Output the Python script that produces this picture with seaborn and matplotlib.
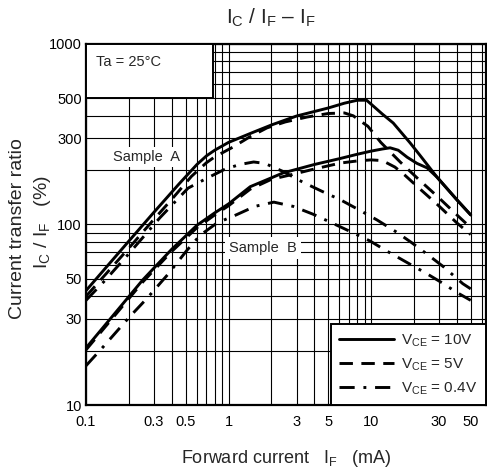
import numpy as np
import pandas as pd
import matplotlib
matplotlib.use("Agg")
import matplotlib.pyplot as plt
from matplotlib.patches import Rectangle
from matplotlib.ticker import LogLocator, FixedLocator, FixedFormatter, NullFormatter
import seaborn as sns

# ---- curve data: forward current IF (mA) vs current transfer ratio (%) ----
if_a_10v = [0.1, 0.2, 0.3, 0.45, 0.6, 0.7, 0.8, 1.0, 1.5, 2.0, 3.0, 5.0, 6.5, 8.0, 9.3, 10.3, 12, 14.3, 18.8, 22, 29, 40, 50]
ctr_a_10v = [43, 81, 117, 168, 215, 240, 258, 285, 325, 356, 399, 442, 470, 488, 488, 455, 409, 365, 283, 242, 183, 137, 113]

if_a_5v = [0.1, 0.2, 0.3, 0.4, 0.55, 0.7, 0.8, 1.07, 1.4, 1.86, 2.5, 3.56, 5.0, 6.5, 7.5, 8.4, 9.5, 11.7, 16, 21.7, 29.5, 40, 50]
ctr_a_5v = [40, 74, 107, 138, 185, 220, 237, 268, 305, 343, 370, 394, 412, 415, 400, 375, 350, 285, 222, 177, 142, 113, 96]

if_a_04v = [0.1, 0.136, 0.2, 0.33, 0.52, 0.7, 0.95, 1.2, 1.5, 1.8, 2.4, 3.3, 4.5, 6.1, 8, 11, 15, 19.4, 25, 32.5, 44, 50]
ctr_a_04v = [38, 49, 69, 109, 159, 180, 203, 215, 222, 218, 197, 172, 153, 137, 122, 106, 91, 79, 68, 58, 47, 44]

if_b_10v = [0.1, 0.25, 0.4, 0.6, 0.8, 1.0, 1.42, 2.41, 4, 6.06, 8, 10, 12, 13.6, 15.5, 17.9, 21, 24.7, 29, 40, 50]
ctr_b_10v = [20.7, 49.3, 73, 99, 116, 130, 162, 193, 215, 232, 245, 255, 262, 266, 258, 236, 218, 206, 183, 137, 113]

if_b_5v = [0.1, 0.25, 0.4, 0.6, 0.8, 1.0, 1.42, 2.0, 2.7, 4, 6.1, 8, 10, 12, 14.7, 17.2, 21.7, 29.5, 40, 50]
ctr_b_5v = [20.2, 48, 71, 96, 113, 127, 157, 178, 188, 203, 219, 225, 228, 226, 208, 188, 159, 128, 102, 88]

if_b_04v = [0.1, 0.132, 0.2, 0.268, 0.376, 0.511, 0.63, 0.83, 1.13, 1.53, 2.08, 2.84, 3.92, 5.32, 7.24, 9.84, 13, 17.6, 24, 31.5, 40, 50]
ctr_b_04v = [16.5, 21, 30.5, 39, 53, 72, 87, 102, 113, 126, 133, 126, 114, 102, 91, 81, 71, 62, 54, 47.5, 42, 38]

vce_labels = ["V$_\\mathrm{CE}$ = 10V", "V$_\\mathrm{CE}$ = 5V", "V$_\\mathrm{CE}$ = 0.4V"]

x_ticks = [0.1, 0.3, 0.5, 1, 3, 5, 10, 30, 50]
x_ticklabels = ["0.1", "0.3", "0.5", "1", "3", "5", "10", "30", "50"]
y_ticks = [10, 30, 50, 100, 300, 500, 1000]
y_ticklabels = ["10", "30", "50", "100", "300", "500", "1000"]

sns.set_theme(style="white")
plt.rcParams["font.family"] = ["Liberation Sans", "DejaVu Sans"]
plt.rcParams["mathtext.fontset"] = "custom"
plt.rcParams["mathtext.rm"] = "Liberation Sans"
plt.rcParams["mathtext.it"] = "Liberation Sans:italic"
plt.rcParams["mathtext.bf"] = "Liberation Sans:bold"

W, H = 487, 469
fig = plt.figure(figsize=(W / 100, H / 100), dpi=100)
ax = fig.add_axes([86 / W, 1 - 405 / H, 400 / W, 361 / H])

rows = []
curves = [
    ("A", 0, if_a_10v, ctr_a_10v),
    ("A", 1, if_a_5v, ctr_a_5v),
    ("A", 2, if_a_04v, ctr_a_04v),
    ("B", 0, if_b_10v, ctr_b_10v),
    ("B", 1, if_b_5v, ctr_b_5v),
    ("B", 2, if_b_04v, ctr_b_04v),
]
for sample, k, xs, ys in curves:
    for x, y in zip(xs, ys):
        rows.append({"sample": sample, "vce": vce_labels[k], "IF": x, "CTR": y})
df = pd.DataFrame(rows)

LW = 2.1
line_styles = {
    vce_labels[0]: "-",
    vce_labels[1]: (0, (4.6, 2.9)),
    vce_labels[2]: (0, (5.2, 3.0, 1.0, 3.0)),
}
handles = {}
for (sample, vce), sub in df.groupby(["sample", "vce"], sort=False):
    before = len(ax.lines)
    sns.lineplot(data=sub, x="IF", y="CTR", ax=ax, color="black", lw=LW,
                 linestyle=line_styles[vce], estimator=None, sort=False,
                 legend=False, zorder=4)
    handles.setdefault(vce, ax.lines[before])

ax.set_xscale("log")
ax.set_yscale("log")
ax.set_xlim(0.1, 64)
ax.set_ylim(10, 1000)

# full log grid
ax.xaxis.set_major_locator(FixedLocator(x_ticks))
ax.xaxis.set_major_formatter(FixedFormatter(x_ticklabels))
ax.xaxis.set_minor_locator(LogLocator(base=10, subs=np.arange(1, 10)))
ax.xaxis.set_minor_formatter(NullFormatter())
ax.yaxis.set_major_locator(FixedLocator(y_ticks))
ax.yaxis.set_major_formatter(FixedFormatter(y_ticklabels))
ax.yaxis.set_minor_locator(LogLocator(base=10, subs=np.arange(1, 10)))
ax.yaxis.set_minor_formatter(NullFormatter())
ax.grid(True, which="both", color="black", lw=0.8)
ax.set_axisbelow(True)
ax.tick_params(which="both", length=0, labelsize=10.5, colors="black")
ax.tick_params(axis="x", pad=7)
ax.tick_params(axis="y", pad=3)

for s in ax.spines.values():
    s.set_visible(True)
    s.set_color("black")
    s.set_linewidth(1.6)

# ambient-temperature box
ax.add_patch(Rectangle((0, 0.85), 0.3175, 0.15, transform=ax.transAxes,
                       facecolor="white", edgecolor="black", lw=1.4, zorder=3))
ax.text(0.024, 0.95, "Ta = 25°C", transform=ax.transAxes, fontsize=10.5,
        ha="left", va="center", zorder=5)

# sample labels
ax.text(0.265, 237, "Sample  A", fontsize=10.5, ha="center", va="center", zorder=3,
        bbox=dict(facecolor="white", edgecolor="none", pad=2))
ax.text(1.75, 74, "Sample  B", fontsize=10.5, ha="center", va="center", zorder=3,
        bbox=dict(facecolor="white", edgecolor="none", pad=3))

leg = ax.legend([handles[v] for v in vce_labels], vce_labels, loc="lower right",
                bbox_to_anchor=(1, 0), borderaxespad=0, frameon=True,
                fancybox=False, framealpha=1, edgecolor="black", fontsize=11,
                handlelength=3.6, handletextpad=0.45, labelspacing=0.5,
                borderpad=0.55)
leg.get_frame().set_linewidth(1.4)
leg.set_zorder(6)

# title and axis labels
fig.text(271 / W, 1 - 18 / H, "I$_\\mathrm{C}$ / I$_\\mathrm{F}$ – I$_\\mathrm{F}$",
         fontsize=15, ha="center", va="center")
ax.set_xlabel("Forward current   I$_\\mathrm{F}$   (mA)", fontsize=13)
ax.xaxis.set_label_coords(0.5, -0.12)
ax.set_ylabel("Current transfer ratio", fontsize=14, va="center", ha="center")
ax.yaxis.set_label_coords((17.5 - 86) / 400, 1 - (228.5 - 44) / 361)
fig.text(42.5 / W, 1 - 221.5 / H, "I$_\\mathrm{C}$ / I$_\\mathrm{F}$   (%)",
         fontsize=14, rotation=90, ha="center", va="center")

fig.savefig("out.png", dpi=100)
